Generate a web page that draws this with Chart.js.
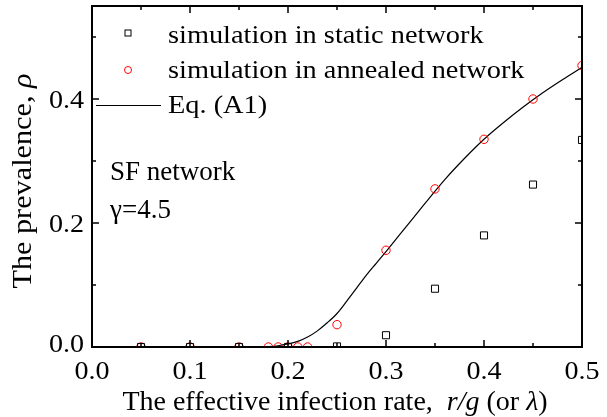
<!DOCTYPE html>
<html>
<head>
<meta charset="utf-8">
<script src="https://cdn.jsdelivr.net/npm/chart.js@4.4.1/dist/chart.umd.min.js"></script>
<style>
  html, body { margin: 0; padding: 0; background: #fff; }
  #wrap { width: 607px; height: 417px; position: relative; }
</style>
</head>
<body>
<div id="wrap"><canvas id="c"></canvas></div>
<script>
// ---- data ----
const staticX = [0.05, 0.10, 0.15, 0.20, 0.25, 0.30, 0.35, 0.40, 0.45, 0.50];
const staticY = [0, 0, 0, 0, 0.001, 0.019, 0.094, 0.180, 0.262, 0.334];

const annealedX = [0.05, 0.10, 0.15, 0.18, 0.19, 0.20, 0.21, 0.22, 0.25, 0.30, 0.35, 0.40, 0.45, 0.50];
const annealedY = [0, 0, 0, 0, 0, 0, 0, 0, 0.036, 0.156, 0.255, 0.335, 0.400, 0.454];

const eqX = [0.17, 0.18, 0.19, 0.20, 0.21, 0.22, 0.23, 0.24, 0.25, 0.26, 0.27, 0.28, 0.29, 0.30,
             0.32, 0.34, 0.36, 0.38, 0.40, 0.42, 0.44, 0.46, 0.48, 0.50];
const eqY = [0, 0.0005, 0.002, 0.005, 0.009, 0.016, 0.026, 0.039, 0.054, 0.074, 0.095, 0.116, 0.135, 0.154,
             0.193, 0.232, 0.270, 0.304, 0.335, 0.362, 0.387, 0.410, 0.431, 0.451];

const xMajorTicks = [0.0, 0.1, 0.2, 0.3, 0.4, 0.5];
const xMinorTicks = [0.05, 0.15, 0.25, 0.35, 0.45];
const yMajorTicks = [0.0, 0.2, 0.4];
const yMinorTicks = [0.1, 0.3, 0.5];

const seriesLabels = ['simulation in static network', 'simulation in annealed network', 'Eq. (A1)'];
const annotation1 = 'SF network';
const annotation2 = 'γ=4.5';

const SERIF = "'Liberation Serif', 'Times New Roman', serif";

function pts(xs, ys) { return xs.map((x, i) => ({ x: x, y: ys[i] })); }

// draw text with a horizontal stretch factor sx
function textS(ctx, t, x, y, size, sx, align, italic) {
  ctx.save();
  ctx.font = (italic ? 'italic ' : '') + size + 'px ' + SERIF;
  ctx.translate(x, y);
  ctx.scale(sx, 1);
  ctx.textAlign = align || 'left';
  ctx.textBaseline = 'alphabetic';
  ctx.fillText(t, 0, 0);
  ctx.restore();
}

function drawMixed(ctx, parts, cx, y, size, sx) {
  let total = 0;
  parts.forEach(p => {
    ctx.font = (p.italic ? 'italic ' : '') + size + 'px ' + SERIF;
    p.w = ctx.measureText(p.t).width * sx;
    total += p.w;
  });
  let x = cx - total / 2;
  parts.forEach(p => {
    textS(ctx, p.t, x, y, size, sx, 'left', p.italic);
    x += p.w;
  });
}

const decor = {
  id: 'decor',
  afterDraw(chart) {
    const ctx = chart.ctx;
    const a = chart.chartArea;
    const xs = chart.scales.x, ys = chart.scales.y;
    ctx.save();
    ctx.strokeStyle = '#000';
    ctx.fillStyle = '#000';
    // frame
    ctx.lineWidth = 2;
    ctx.strokeRect(a.left, a.top, a.right - a.left, a.bottom - a.top);
    // inward ticks
    ctx.lineWidth = 1.5;
    ctx.beginPath();
    const tickX = (v, len) => {
      const px = Math.round(xs.getPixelForValue(v));
      ctx.moveTo(px, a.bottom); ctx.lineTo(px, a.bottom - len);
      ctx.moveTo(px, a.top); ctx.lineTo(px, a.top + len);
    };
    const tickY = (v, len) => {
      const py = Math.round(ys.getPixelForValue(v));
      ctx.moveTo(a.left, py); ctx.lineTo(a.left + len, py);
      ctx.moveTo(a.right, py); ctx.lineTo(a.right - len, py);
    };
    xMajorTicks.forEach(v => tickX(v, 7));
    xMinorTicks.forEach(v => tickX(v, 4));
    yMajorTicks.forEach(v => tickY(v, 7));
    yMinorTicks.forEach(v => tickY(v, 4));
    ctx.stroke();

    // tick labels
    xMajorTicks.forEach(v => {
      textS(ctx, v.toFixed(1), xs.getPixelForValue(v), a.bottom + 31.5, 26, 1.08, 'center');
    });
    yMajorTicks.forEach(v => {
      const py = Math.min(ys.getPixelForValue(v), a.bottom - 4);
      textS(ctx, v.toFixed(1), a.left - 8, py + 8.5, 26, 1.08, 'right');
    });

    // legend
    const ds = chart.data.datasets;
    ctx.lineWidth = 1;
    ctx.strokeStyle = ds[0].borderColor;
    ctx.strokeRect(125, 30, 6, 6);
    textS(ctx, ds[0].label, 168, 43, 26, 1.09, 'left');
    ctx.strokeStyle = ds[1].borderColor;
    ctx.beginPath();
    ctx.arc(128, 70, 3.5, 0, Math.PI * 2);
    ctx.stroke();
    textS(ctx, ds[1].label, 168, 78, 26, 1.09, 'left');
    ctx.strokeStyle = ds[2].borderColor;
    ctx.lineWidth = 1.2;
    ctx.beginPath();
    ctx.moveTo(96, 105.5); ctx.lineTo(161, 105.5);
    ctx.stroke();
    textS(ctx, ds[2].label, 168, 113, 26, 1.09, 'left');

    // annotations
    textS(ctx, annotation1, 110, 180, 27, 1.0, 'left');
    textS(ctx, annotation2, 110, 218, 27, 1.0, 'left');

    // x title
    drawMixed(ctx, [
      { t: 'The effective infection rate,  ' },
      { t: 'r/g', italic: true },
      { t: ' (or ' },
      { t: 'λ', italic: true },
      { t: ')' }
    ], 335, 410, 28, 1.0);

    // y title
    ctx.save();
    ctx.translate(31, 181);
    ctx.rotate(-Math.PI / 2);
    drawMixed(ctx, [
      { t: 'The prevalence, ' },
      { t: 'ρ', italic: true }
    ], 0, 0, 27, 1.12);
    ctx.restore();

    ctx.restore();
  }
};

new Chart(document.getElementById('c'), {
  type: 'scatter',
  data: {
    datasets: [
      {
        label: seriesLabels[0],
        data: pts(staticX, staticY),
        pointStyle: 'rect',
        pointRadius: 5,
        borderColor: '#000',
        backgroundColor: 'rgba(0,0,0,0)',
        borderWidth: 1,
        showLine: false,
        clip: 0
      },
      {
        label: seriesLabels[1],
        data: pts(annealedX, annealedY),
        pointStyle: 'circle',
        pointRadius: 4.2,
        borderColor: '#ff0000',
        backgroundColor: 'rgba(0,0,0,0)',
        borderWidth: 1,
        showLine: false,
        clip: 0
      },
      {
        label: seriesLabels[2],
        data: pts(eqX, eqY),
        showLine: true,
        pointRadius: 0,
        borderColor: '#000',
        borderWidth: 1.2,
        cubicInterpolationMode: 'monotone',
        fill: false,
        clip: 0
      }
    ]
  },
  options: {
    responsive: true,
    maintainAspectRatio: false,
    animation: false,
    events: [],
    layout: { padding: { left: 0, top: 5, right: 25, bottom: 0 } },
    plugins: { legend: { display: false }, tooltip: { enabled: false } },
    scales: {
      x: {
        type: 'linear',
        min: 0, max: 0.5,
        grid: { display: false, drawTicks: false },
        border: { display: false },
        ticks: { display: false, stepSize: 0.1 },
        afterFit: s => { s.height = 70; s.paddingLeft = 0; s.paddingRight = 0; }
      },
      y: {
        type: 'linear',
        min: 0, max: 0.55,
        grid: { display: false, drawTicks: false },
        border: { display: false },
        ticks: { display: false, stepSize: 0.2 },
        afterFit: s => { s.width = 92; s.paddingTop = 0; s.paddingBottom = 0; }
      }
    }
  },
  plugins: [decor]
});
</script>
</body>
</html>
